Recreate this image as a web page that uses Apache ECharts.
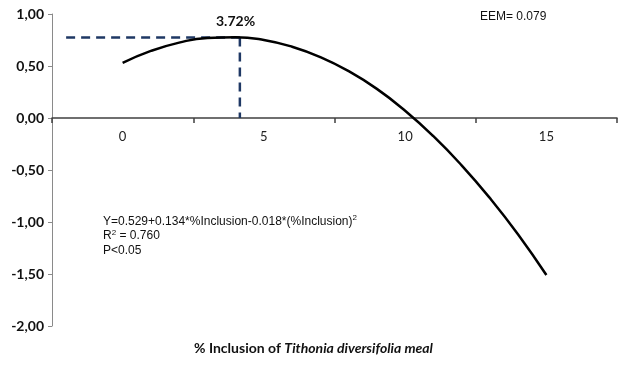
<!DOCTYPE html>
<html>
<head>
<meta charset="utf-8">
<script src="https://cdn.jsdelivr.net/npm/echarts@6/dist/echarts.min.js"></script>
<style>
  html, body { margin: 0; padding: 0; background: #fff; }
  #chart { width: 627px; height: 365px; }
</style>
</head>
<body>
<div id="chart"></div>
<script>
// x axis categories (labels sit between the ticks)
const categories = ['0', '5', '10', '15'];
// fitted curve: % inclusion -> response
const inclusion = [0, 1, 2, 3, 4, 5, 6, 7, 8, 9, 10, 11, 12, 13, 14, 15];
const response = [0.53, 0.645, 0.725, 0.77, 0.777, 0.75, 0.685, 0.585, 0.45, 0.28, 0.07, -0.175, -0.455, -0.77, -1.12, -1.51];
// dashed guide to the maximum
const peakX = 4.15;
const peakY = 0.775;
const guideStart = -2;
const yTicks = { min: -2, max: 1, step: 0.5 };

const chart = echarts.init(document.getElementById('chart'));

const curve = inclusion.map((x, i) => [x, response[i]]);

// grid is 312px tall, zero sits 208px above the bottom edge
const zeroOffset = -208;

const option = {
  animation: false,
  backgroundColor: '#fff',
  grid: { left: 52, right: 10, top: 14, bottom: 39 },
  xAxis: [
    {
      type: 'category',
      data: categories,
      boundaryGap: true,
      position: 'bottom',
      offset: zeroOffset,
      axisLine: { onZero: false, lineStyle: { color: '#404040', width: 1.5 } },
      axisTick: { show: true, length: 5, lineStyle: { color: '#404040', width: 1.5 } },
      axisLabel: { color: '#222', fontSize: 13, fontFamily: 'Lato', margin: 12 },
      splitLine: { show: false },
    },
    {
      type: 'value',
      min: -2.5,
      max: 17.5,
      show: false,
    },
  ],
  yAxis: {
    type: 'value',
    min: yTicks.min,
    max: yTicks.max,
    interval: yTicks.step,
    axisLine: { show: true, onZero: false, lineStyle: { color: '#8a8a8a', width: 1 } },
    axisTick: { show: true, length: 4, lineStyle: { color: '#8a8a8a' } },
    axisLabel: {
      color: '#111',
      fontSize: 14,
      fontWeight: 'bold',
      fontFamily: 'Lato',
      margin: 8,
      formatter: (v) => v.toFixed(2).replace('.', ','),
    },
    splitLine: { show: false },
  },
  series: [
    {
      type: 'line',
      xAxisIndex: 1,
      data: curve,
      smooth: true,
      symbol: 'none',
      lineStyle: { color: '#000', width: 2.5 },
      z: 5,
    },
    {
      type: 'line',
      xAxisIndex: 1,
      data: [[guideStart, peakY], [peakX, peakY]],
      symbol: 'none',
      lineStyle: { color: '#1f3864', width: 2.5, type: [9, 6] },
      z: 4,
    },
    {
      type: 'line',
      xAxisIndex: 1,
      data: [[peakX, peakY], [peakX, 0]],
      symbol: 'none',
      lineStyle: { color: '#1f3864', width: 2.5, type: [9, 6] },
      z: 4,
    },
  ],
  graphic: [
    {
      type: 'text', left: 216, top: 14,
      style: { text: '3.72%', font: 'bold 14px Lato', fill: '#111' },
    },
    {
      type: 'text', left: 480, top: 11,
      style: { text: 'EEM= 0.079', font: '12px "Liberation Sans"', fill: '#111' },
    },
    {
      type: 'text', left: 103, top: 214,
      style: {
        text: '{n|Y=0.529+0.134*%Inclusion-0.018*(%Inclusion)}{s|2}\n{n|R}{s|2}{n| = 0.760}\n{n|P<0.05}',
        rich: {
          n: { font: '12px "Liberation Sans"', fill: '#111', lineHeight: 14.5 },
          s: { font: '8px "Liberation Sans"', fill: '#111', verticalAlign: 'top', lineHeight: 14.5 },
        },
      },
    },
    {
      type: 'text', left: 'center', top: 341,
      style: {
        text: '{a|% Inclusion of }{b|Tithonia diversifolia meal}',
        rich: {
          a: { font: 'bold 14px Lato', fill: '#111' },
          b: { font: 'italic bold 14px Lato', fill: '#111' },
        },
      },
    },
  ],
};

chart.setOption(option);
</script>
</body>
</html>
